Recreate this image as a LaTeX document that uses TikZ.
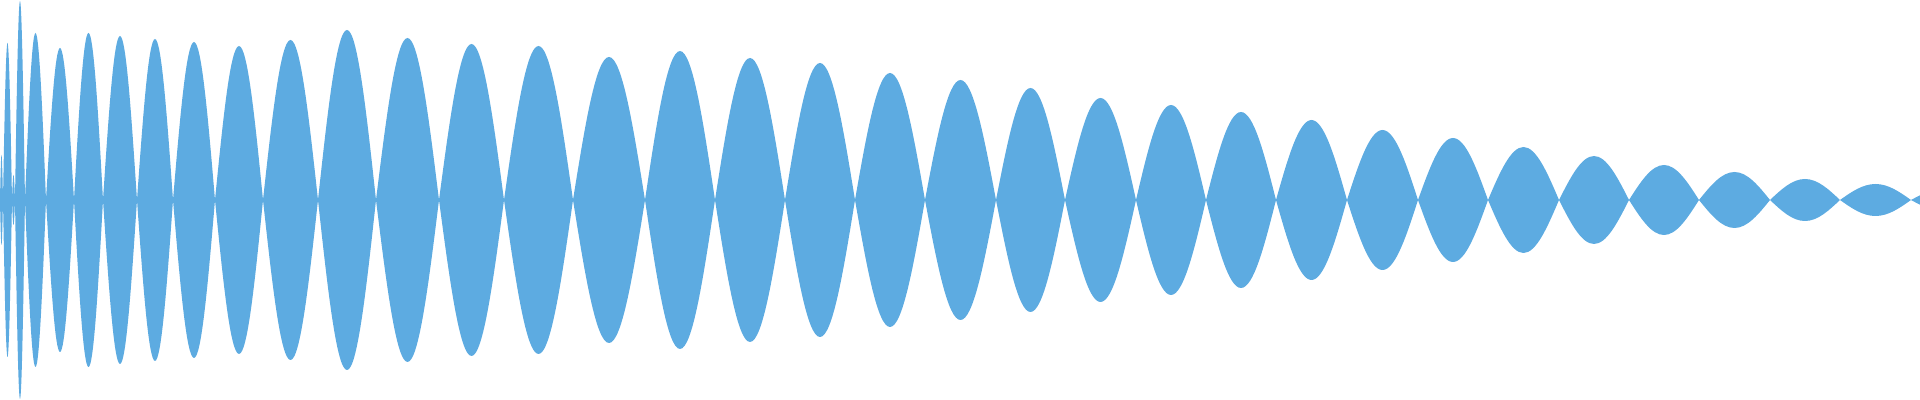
\documentclass[tikz,border=0pt]{standalone}
\usepackage{xcolor}
\usepackage{tikz}
\definecolor{wavefill}{RGB}{93,171,225}

\begin{document}
\begin{tikzpicture}[x=0.01cm,y=0.01cm]
  \useasboundingbox (0,-200) rectangle (1920,200);
  \clip (0,-200) rectangle (1920,200);
  % Lobes: start / end / amplitude
  \foreach \a/\b/\h in {0/3/45,3/12/157,12/15/25,15/25/199,25/46/167,46/74/152,74/103/167,
    103/137/164,137/173/161,173/215/158,215/263/154,263/318/160,318/376/170,
    376/439/162,439/504/156,504/573/154,573/645/143,645/715/149,715/785/142,
    785/855/137,855/925/127,925/996/120,996/1065/112,1065/1136/102,1136/1206/95,
    1206/1276/88,1276/1347/80,1347/1418/70,1418/1488/62,1488/1559/53,1559/1629/44,
    1629/1699/35,1699/1770/28,1770/1840/21,1840/1911/16,1911/1981/12}
    \fill[wavefill] (\a,0) sin ({(\a+\b)/2},\h) cos (\b,0)
      sin ({(\a+\b)/2},-\h) cos (\a,0) -- cycle;
\end{tikzpicture}
\end{document}
